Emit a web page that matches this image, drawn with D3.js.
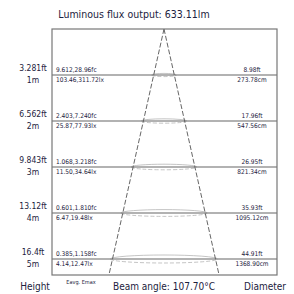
<!DOCTYPE html>
<html>
<head>
<meta charset="utf-8">
<script src="https://cdn.jsdelivr.net/npm/d3@7"></script>
<style>
  body { margin: 0; background: #fff; }
  svg text { font-family: "Liberation Sans Narrow", "DejaVu Sans Condensed", sans-serif; fill: #1c2240; }
</style>
</head>
<body>
<svg class="lf-chart"></svg>
<script>
// values
let fluxText = 'Luminous flux output: 633.11lm';
let beamText = 'Beam angle: 107.70°C';
let distM = [1, 2, 3, 4, 5];
let distFt = ['3.281ft', '6.562ft', '9.843ft', '13.12ft', '16.4ft'];
let fcText = ['9.612,28.96fc', '2.403,7.240fc', '1.068,3.218fc', '0.601,1.810fc', '0.385,1.158fc'];
let luxText = ['103.46,311.72lx', '25.87,77.93lx', '11.50,34.64lx', '6.47,19.48lx', '4.14,12.47lx'];
let diamCm = [273.78, 547.56, 821.34, 1095.12, 1368.90];
let diamFt = ['8.98ft', '17.96ft', '26.95ft', '35.93ft', '44.91ft'];

let width = 294, height = 294;
let box = {left: 52, right: 277, top: 29, bottom: 275};

let svg = d3.select('.lf-chart')
  .attr('width', width)
  .attr('height', height);

// distance -> y, beam diameter -> pixel width
let y = d3.scaleLinear().domain([0, 5]).range([box.top, 259]);
let w = d3.scaleLinear().domain([0, diamCm[4]]).range([0, 103]);
let cx = 164;
let dBottom = y.invert(box.bottom);
let cmPerM = diamCm[0] / distM[0];

svg.append('text')
  .attr('x', 134).attr('y', 18)
  .attr('text-anchor', 'middle')
  .attr('font-size', 10.5)
  .text(fluxText);

// beam ellipses
let rows = distM.map((d, i) => ({d: d, i: i}));
rows.forEach(r => {
  let rx = w(diamCm[r.i]) / 2 + 2, ry = 1 + r.d * 0.6, yy = y(r.d);
  svg.append('path')
    .attr('d', `M${cx - rx},${yy} A${rx},${ry} 0 0 1 ${cx + rx},${yy}`)
    .attr('fill', 'none').attr('stroke', '#aaa').attr('stroke-width', 0.7);
  svg.append('path')
    .attr('d', `M${cx - rx},${yy} A${rx},${ry} 0 0 0 ${cx + rx},${yy}`)
    .attr('fill', 'none').attr('stroke', '#aaa').attr('stroke-width', 0.7)
    .attr('stroke-dasharray', '4,2');
});

// cone
let halfBottom = w(cmPerM * dBottom) / 2;
[-1, 1].forEach(s => {
  svg.append('line')
    .attr('x1', cx).attr('y1', y(0))
    .attr('x2', cx + s * halfBottom).attr('y2', box.bottom)
    .attr('stroke', '#555').attr('stroke-width', 0.9)
    .attr('stroke-dasharray', '5,2');
});

// level lines
svg.selectAll('.lf-level')
  .data(rows).enter().append('line')
  .attr('class', 'lf-level')
  .attr('x1', box.left).attr('x2', box.right)
  .attr('y1', r => y(r.d)).attr('y2', r => y(r.d))
  .attr('stroke', '#666').attr('stroke-width', 1.2);

// box
svg.append('rect')
  .attr('x', box.left).attr('y', box.top)
  .attr('width', box.right - box.left).attr('height', box.bottom - box.top)
  .attr('fill', 'none').attr('stroke', '#777').attr('stroke-width', 1.2);

let label = (x, yy, txt, size, anchor) => svg.append('text')
  .attr('x', x).attr('y', yy).attr('font-size', size)
  .attr('text-anchor', anchor).text(txt);

rows.forEach(r => {
  let yy = y(r.d);
  label(33, yy - 4, distFt[r.i], 8.5, 'middle');
  label(33, yy + 8, r.d + 'm', 8.5, 'middle');
  label(56, yy - 3, fcText[r.i], 6.5, 'start');
  label(56, yy + 7, luxText[r.i], 6.5, 'start');
  label(252, yy - 3, diamFt[r.i], 6.5, 'middle');
  label(252, yy + 7, diamCm[r.i].toFixed(2) + 'cm', 6.5, 'middle');
});

label(35, 290, 'Height', 10, 'middle');
label(81, 284, 'Eavg. Emax', 5.5, 'middle');
label(164, 290, beamText, 10, 'middle');
label(244, 290, 'Diameter', 10, 'start');
</script>
</body>
</html>
